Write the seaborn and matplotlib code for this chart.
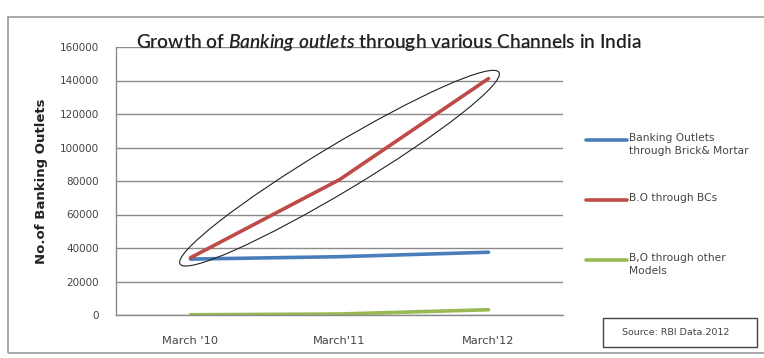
import pandas as pd
import numpy as np
import matplotlib.pyplot as plt
import seaborn as sns
from matplotlib.patches import Ellipse, Rectangle
from matplotlib.lines import Line2D
from matplotlib.transforms import IdentityTransform

# --- data ---
periods = ["March '10", "March'11", "March'12"]
brick_mortar = [33378, 34811, 37471]
through_bcs = [34174, 80802, 141136]
other_models = [142, 595, 3146]

series_names = ["Banking Outlets\nthrough Brick& Mortar", "B.O through BCs", "B,O through other\nModels"]
colors = ["#4A7EBB", "#BE4B48", "#98B954"]

df = pd.DataFrame({
    "period": periods * 3,
    "outlets": brick_mortar + through_bcs + other_models,
    "series": [series_names[0]] * 3 + [series_names[1]] * 3 + [series_names[2]] * 3,
})

sns.set_style("white")
plt.rcParams["font.family"] = ["DejaVu Sans"]
# italic part of the title in the same family as the rest
plt.rcParams["mathtext.fontset"] = "custom"
plt.rcParams["mathtext.rm"] = "Lato"
plt.rcParams["mathtext.it"] = "Lato:italic:semibold"

W, H = 764, 358
fig = plt.figure(figsize=(W / 100, H / 100), dpi=100)
# plot area in pixels: left 116, right 563, top 47, bottom 315
ax = fig.add_axes([116 / W, 1 - 315 / H, (563 - 116) / W, (315 - 47) / H])

sns.lineplot(data=df, x="period", y="outlets", hue="series", palette=colors,
             linewidth=2.6, ax=ax, legend=False, sort=False)

ax.set_xlim(-0.5, 2.5)
ax.set_ylim(0, 160000)
ax.set_yticks(range(0, 160001, 20000))
ax.yaxis.grid(True, color="#8a8a8a", linewidth=1)
ax.set_axisbelow(True)
for s in ["top", "right"]:
    ax.spines[s].set_visible(False)
for s in ["left", "bottom"]:
    ax.spines[s].set_color("#8a8a8a")
    ax.spines[s].set_linewidth(1)
ax.tick_params(axis="y", length=0, labelsize=7.5, colors="#444444", pad=12)
ax.tick_params(axis="x", length=0, labelsize=8.2, colors="#444444", pad=15)
ax.set_xlabel("")
ax.set_ylabel("No.of Banking Outlets", fontsize=9.5, fontweight="bold", labelpad=9, color="#222222")

# title with italic part
ax.set_title("Growth of $\\it{Banking\\ outlets}$ through various Channels in India",
             fontsize=13.8, loc="left", x=0.045, y=1.0, pad=-1, color="#222222",
             family="Lato", fontweight="semibold")

# ellipse around the BC line
fig.canvas.draw()
p0 = ax.transData.transform((0, through_bcs[0]))
p1 = ax.transData.transform((2, through_bcs[-1]))
mid = (p0 + p1) / 2
dist = np.hypot(*(p1 - p0))
ang = np.degrees(np.arctan2(p1[1] - p0[1], p1[0] - p0[0]))
ell = Ellipse(mid, dist * 1.07, 46, angle=ang, fill=False, edgecolor="#222222",
              linewidth=0.8, transform=IdentityTransform(), clip_on=False)
fig.add_artist(ell)

# legend drawn by hand
def fx(x):
    return x / W

def fy(y):
    return 1 - y / H

for i, (name, c) in enumerate(zip(series_names, colors)):
    y = 140 + 60 * i
    fig.add_artist(Line2D([fx(586), fx(627)], [fy(y), fy(y)], color=c, linewidth=2.6,
                          transform=fig.transFigure))
    fig.text(fx(629), fy(y - 7), name, fontsize=7.7, va="top", ha="left",
             color="#444444", linespacing=1.35)

# source box
fig.add_artist(Rectangle((fx(603), fy(347)), fx(757) - fx(603), fy(318) - fy(347),
                         fill=False, edgecolor="#444444", linewidth=1, transform=fig.transFigure))
fig.text(fx(676), fy(332.5), "Source: RBI Data.2012", fontsize=6.8, ha="center", va="center",
         color="#444444")

# outer chart border
fig.add_artist(Rectangle((fx(8), fy(353)), fx(775) - fx(8), fy(17) - fy(353),
                         fill=False, edgecolor="#9a9a9a", linewidth=1.2, transform=fig.transFigure))

plt.savefig("out.png", dpi=100)
